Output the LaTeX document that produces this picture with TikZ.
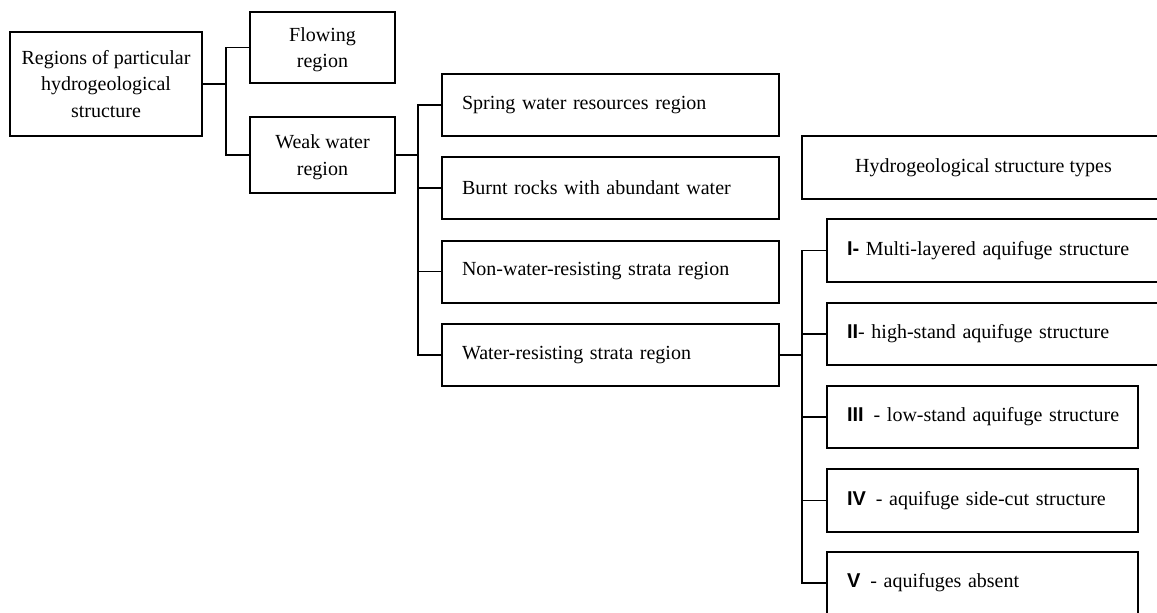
\documentclass[tikz,border=0pt]{standalone}
\usepackage{fontspec}
\setmainfont{Liberation Serif}
\newfontfamily\romfont{Liberation Sans}
\newcommand{\rn}[1]{{\romfont\bfseries #1}}
\begin{document}
\begin{tikzpicture}[x=0.5pt,y=-0.5pt,
  box/.style={draw=black, line width=1pt, rectangle, inner sep=0pt,
    font=\fontsize{10}{13.3}\selectfont},
  cbox/.style={box, align=center},
  lbox/.style={box, align=left, inner xsep=10pt, inner ysep=0pt},
  conn/.style={draw=black, line width=0.9pt}]
\useasboundingbox (0,0) rectangle (1157,612);
\clip (0,0) rectangle (1157,612);
% level 1
\node[cbox, minimum width=96pt, minimum height=52pt] (root) at (106,84)
  {Regions of particular\\hydrogeological\\structure};
\node[cbox, minimum width=72.5pt, minimum height=35.5pt] (flow) at (322.5,47.5)
  {\rule{0pt}{9pt}Flowing\\region};
\node[cbox, minimum width=72.5pt, minimum height=38pt] (weak) at (322.5,155)
  {\rule{0pt}{9pt}Weak water\\region};
% level 2
\node[lbox, text width=148.5pt, minimum height=31pt] (spring) at (610.5,105)
  {Spring water resources region};
\node[lbox, text width=148.5pt, minimum height=31pt] (burnt) at (610.5,188)
  {Burnt rocks with abundant water};
\node[lbox, text width=148.5pt, minimum height=31pt] (non) at (610.5,271.5)
  {Non-water-resisting strata region};
\node[lbox, text width=148.5pt, minimum height=31pt] (water) at (610.5,355)
  {Water-resisting strata region};
% level 3
\node[cbox, minimum width=181.5pt, minimum height=31.5pt] (hydro) at (983.5,167.5)
  {Hydrogeological structure types};
\node[lbox, text width=149pt, minimum height=31.5pt] (t1) at (996,250.5)
  {\mbox{\rn{I-} Multi-layered aquifuge structure}};
\node[lbox, text width=149pt, minimum height=31pt] (t2) at (996,334)
  {\mbox{\rn{II}- high-stand aquifuge structure}};
\node[lbox, text width=135.5pt, minimum height=31pt] (t3) at (982.5,417)
  {\mbox{\rn{III}\enspace- low-stand aquifuge structure}};
\node[lbox, text width=135.5pt, minimum height=31.5pt] (t4) at (982.5,500.5)
  {\mbox{\rn{IV}\enspace- aquifuge side-cut structure}};
\node[lbox, text width=135.5pt, minimum height=31pt] (t5) at (982.5,583)
  {\mbox{\rn{V}\enspace- aquifuges absent}};
% junctions
\coordinate (j1) at (226,84);
\coordinate (j2) at (418,155);
\coordinate (j3) at (802,355);
% connectors
\draw[conn] (root.east) -- (j1);
\draw[conn] (flow.west) -| (j1) |- (weak.west);
\draw[conn, line width=1.3pt] (weak.east) -- (j2);
\draw[conn] (spring.west) -| (j2) |- (water.west);
\draw[conn] (burnt.west) -- (burnt.west -| j2);
\draw[conn] (non.west) -- (non.west -| j2);
\draw[conn] (water.east) -- (j3);
\draw[conn] (t1.west) -| (j3) |- (t5.west);
\draw[conn] (t2.west) -- (t2.west -| j3);
\draw[conn] (t3.west) -- (t3.west -| j3);
\draw[conn] (t4.west) -- (t4.west -| j3);
\end{tikzpicture}
\end{document}
